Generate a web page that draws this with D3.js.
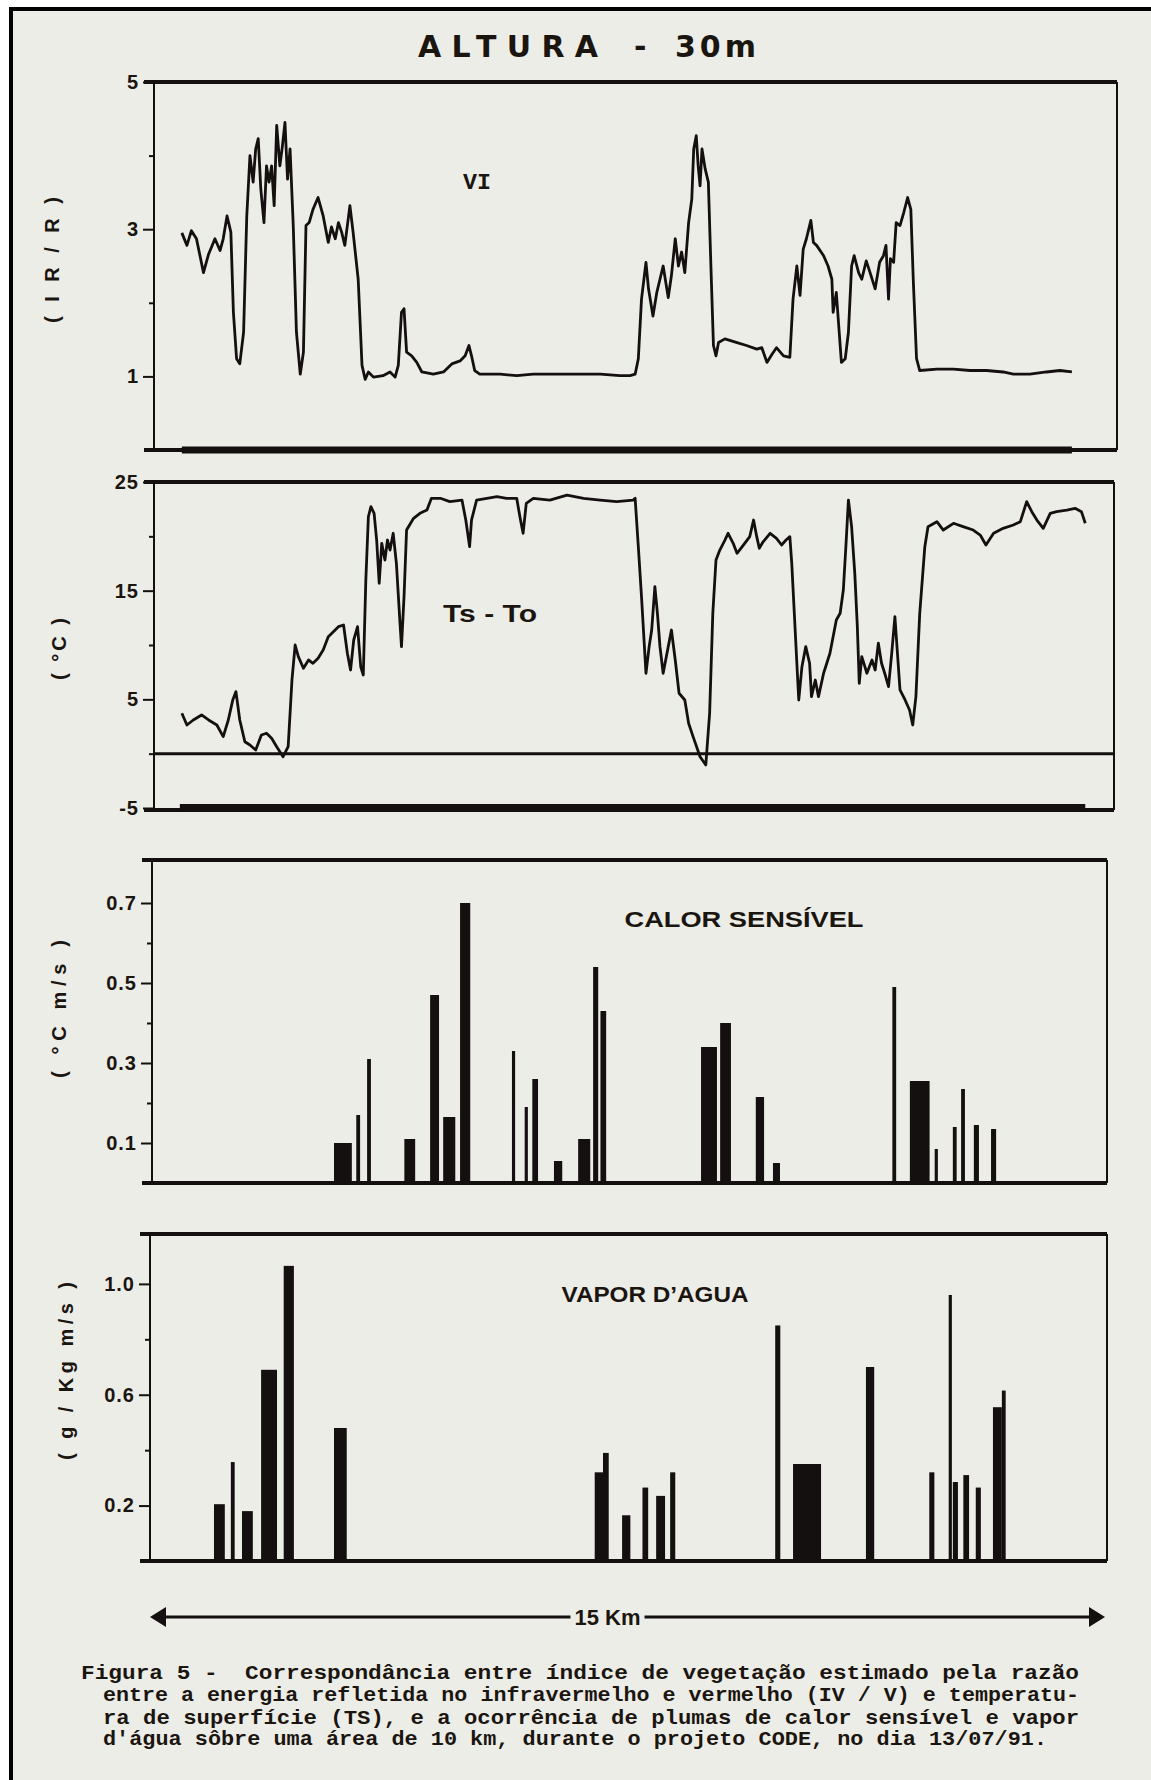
<!DOCTYPE html>
<html>
<head>
<meta charset="utf-8">
<script src="https://cdnjs.cloudflare.com/ajax/libs/d3/7.8.5/d3.min.js"></script>
<style>
body { margin: 0; background: #fff; }
svg text { fill: #1b1510; }
</style>
</head>
<body>
<svg id="fig" width="1151" height="1780"></svg>
<script>
// VI trace (IR/R) - distance along track in km / value
var viKm = [0.50,0.58,0.65,0.73,0.84,0.92,1.02,1.10,1.15,1.21,1.27,1.31,1.36,1.41,1.47,1.52,1.57,1.62,1.66,1.70,
    1.74,1.79,1.83,1.87,1.91,1.95,1.99,2.04,2.08,2.12,2.16,2.20,2.25,2.30,2.36,2.41,2.45,2.50,2.56,2.64,
    2.72,2.80,2.85,2.91,2.96,3.01,3.06,3.14,3.19,3.27,3.33,3.38,3.43,3.51,3.66,3.77,3.85,3.90,3.95,3.99,
    4.03,4.11,4.19,4.27,4.45,4.61,4.74,4.87,4.95,5.01,5.05,5.10,5.18,5.50,5.76,6.02,6.55,7.07,7.38,7.54,
    7.62,7.67,7.72,7.79,7.83,7.90,7.96,8.06,8.14,8.19,8.25,8.30,8.35,8.40,8.46,8.51,8.54,8.58,8.61,8.64,
    8.67,8.72,8.77,8.81,8.85,8.89,8.93,9.03,9.22,9.37,9.53,9.61,9.69,9.77,9.84,9.95,10.05,10.10,10.16,10.21,
    10.26,10.31,10.38,10.42,10.47,10.58,10.65,10.71,10.73,10.78,10.81,10.86,10.92,10.97,11.02,11.06,11.13,11.18,11.25,11.31,
    11.39,11.46,11.52,11.56,11.60,11.63,11.68,11.72,11.78,11.84,11.90,11.95,11.99,12.04,12.09,12.36,12.62,12.88,13.14,13.40,
    13.56,13.82,14.08,14.29,14.48];
var viVal = [2.95,2.78,2.98,2.87,2.41,2.66,2.87,2.71,2.87,3.18,2.96,1.87,1.24,1.17,1.60,3.18,4.00,3.64,4.09,4.23,
    3.55,3.09,3.86,3.64,3.86,3.32,4.41,3.86,4.13,4.45,3.68,4.09,3.05,1.60,1.03,1.33,3.05,3.09,3.27,3.43,
    3.18,2.82,3.03,2.87,3.09,2.96,2.78,3.32,2.96,2.32,1.15,0.96,1.06,0.99,1.01,1.06,0.99,1.15,1.87,1.92,
    1.33,1.28,1.19,1.06,1.03,1.06,1.17,1.21,1.28,1.42,1.28,1.08,1.03,1.03,1.01,1.03,1.03,1.03,1.01,1.01,
    1.03,1.24,2.05,2.55,2.19,1.82,2.14,2.50,2.07,2.37,2.87,2.50,2.69,2.41,3.09,3.41,4.09,4.27,3.86,3.59,
    4.09,3.82,3.64,2.50,1.42,1.28,1.46,1.51,1.46,1.42,1.37,1.39,1.19,1.30,1.39,1.28,1.26,2.05,2.50,2.10,
    2.73,2.87,3.12,2.82,2.78,2.64,2.50,2.32,1.87,2.14,1.78,1.19,1.24,1.60,2.50,2.64,2.41,2.32,2.57,2.41,
    2.19,2.55,2.64,2.78,2.05,2.60,2.55,3.09,3.05,3.23,3.43,3.27,2.28,1.24,1.08,1.10,1.10,1.08,1.08,1.06,
    1.03,1.03,1.06,1.08,1.06];

// Ts - To trace (deg C)
var tsKm = [0.50,0.58,0.68,0.81,0.92,1.05,1.15,1.23,1.30,1.35,1.41,1.49,1.57,1.66,1.75,1.83,1.91,1.99,2.09,2.17,
    2.23,2.28,2.33,2.41,2.49,2.56,2.64,2.72,2.80,2.88,2.96,3.04,3.10,3.15,3.20,3.26,3.31,3.35,3.39,3.43,
    3.47,3.52,3.56,3.60,3.64,3.69,3.73,3.77,3.82,3.87,3.93,3.95,3.99,4.03,4.14,4.24,4.35,4.42,4.56,4.71,
    4.90,4.96,5.02,5.05,5.13,5.29,5.45,5.60,5.76,5.81,5.86,5.91,6.02,6.28,6.55,6.81,7.07,7.33,7.59,7.62,
    7.67,7.72,7.79,7.84,7.88,7.93,7.97,8.01,8.06,8.14,8.19,8.25,8.31,8.40,8.46,8.53,8.64,8.73,8.79,8.84,
    8.89,8.95,9.03,9.08,9.16,9.22,9.32,9.42,9.48,9.53,9.57,9.63,9.74,9.84,9.92,9.99,10.05,10.08,10.12,10.16,
    10.19,10.24,10.30,10.36,10.39,10.45,10.50,10.58,10.68,10.78,10.84,10.89,10.93,10.97,11.02,11.07,11.11,11.14,11.18,11.26,
    11.34,11.39,11.44,11.49,11.54,11.60,11.65,11.70,11.74,11.78,11.86,11.93,11.98,12.03,12.09,12.17,12.22,12.36,12.46,12.62,
    12.77,12.93,13.04,13.13,13.25,13.40,13.56,13.67,13.77,13.85,13.93,14.03,14.14,14.24,14.40,14.53,14.63,14.69];
var tsVal = [3.72,2.64,3.10,3.56,3.10,2.64,1.57,3.10,4.94,5.71,3.10,1.10,0.80,0.34,1.72,1.88,1.42,0.64,-0.28,0.64,
    6.78,10.00,8.93,7.86,8.62,8.32,8.78,9.54,10.77,11.23,11.69,11.84,9.24,7.70,10.46,11.69,8.00,7.24,15.98,21.80,
    22.73,22.12,19.66,15.68,19.36,17.82,19.66,18.74,20.28,17.52,11.69,9.85,14.45,20.58,21.66,22.12,22.42,23.50,23.50,23.19,
    23.34,21.50,19.05,21.50,23.34,23.50,23.65,23.50,23.50,21.80,20.28,23.04,23.50,23.34,23.80,23.50,23.34,23.19,23.34,23.50,
    19.05,14.45,7.40,9.85,11.38,15.37,12.92,9.85,7.40,9.85,11.38,8.62,5.56,4.94,2.80,1.57,-0.28,-1.04,3.72,12.92,
    17.82,18.74,19.66,20.28,19.36,18.44,19.20,19.97,21.50,19.97,18.90,19.50,20.28,19.82,19.20,19.66,19.97,17.52,12.92,8.32,
    4.94,8.00,9.85,8.32,5.25,6.78,5.25,7.40,9.24,12.30,12.92,15.06,19.05,23.34,20.89,16.60,11.69,6.48,8.93,7.40,
    8.62,7.70,10.16,8.32,7.40,6.17,9.24,12.61,9.24,5.87,4.94,4.02,2.64,5.25,12.92,19.05,20.89,21.35,20.58,21.20,
    20.89,20.58,20.12,19.20,20.28,20.74,21.04,21.35,23.19,22.27,21.50,20.74,22.12,22.27,22.42,22.58,22.27,21.20];

// calor sensivel plumes (deg C m/s): centre km, width km, value
var calorKm = [3.03,3.27,3.44,4.08,4.47,4.70,4.95,5.71,5.91,6.05,6.41,6.82,7.00,7.12,8.78,9.04,9.58,9.84,11.69,12.09,12.35,12.64,12.77,12.98,13.25];
var calorWidth = [0.28,0.06,0.06,0.17,0.14,0.19,0.16,0.05,0.05,0.09,0.13,0.19,0.08,0.09,0.25,0.17,0.13,0.11,0.06,0.31,0.05,0.06,0.06,0.08,0.08];
var calorVal = [0.10,0.17,0.31,0.11,0.47,0.165,0.70,0.33,0.19,0.26,0.055,0.11,0.54,0.43,0.34,0.40,0.215,0.05,0.49,0.255,0.085,0.14,0.235,0.145,0.135];

// vapor d'agua plumes (g/Kg m/s)
var vaporKm = [1.09,1.30,1.53,1.87,2.18,2.99,7.05,7.16,7.48,7.78,8.02,8.21,9.86,10.32,11.31,12.28,12.57,12.65,12.82,13.01,13.31,13.41];
var vaporWidth = [0.17,0.06,0.17,0.25,0.16,0.20,0.13,0.09,0.13,0.09,0.14,0.08,0.08,0.44,0.13,0.08,0.05,0.08,0.09,0.08,0.14,0.06];
var vaporVal = [0.205,0.357,0.18,0.69,1.065,0.48,0.32,0.39,0.165,0.265,0.235,0.32,0.85,0.35,0.70,0.32,0.96,0.285,0.31,0.265,0.555,0.615];

// tick values
var viMajor = [1, 3, 5], viMinor = [2, 4];
var tsMajor = [-5, 5, 15, 25], tsMinor = [0, 10, 20];
var calorMajor = [0.1, 0.3, 0.5, 0.7], calorMinor = [0.2, 0.4, 0.6];
var vaporMajor = [0.2, 0.6, 1.0], vaporMinor = [0.4, 0.8];

var captionLines = [
    "Figura 5 -  Correspond\u00e2ncia entre \u00edndice de vegeta\u00e7\u00e3o estimado pela raz\u00e3o",
    "entre a energia refletida no infravermelho e vermelho (IV / V) e temperatu-",
    "ra de superf\u00edcie (TS), e a ocorr\u00eancia de plumas de calor sens\u00edvel e vapor",
    "d'\u00e1gua s\u00f4bre uma \u00e1rea de 10 km, durante o projeto CODE, no dia 13/07/91."
];

var ink = '#151010';
var narrow = '"Liberation Sans Narrow", "Liberation Sans", Arial, sans-serif';

var svg = d3.select('#fig');

// scanned page background + frame
svg.append('rect').attr('x', 11).attr('y', 9).attr('width', 1140).attr('height', 1771).attr('fill', '#edede8');
svg.append('path').attr('d', 'M11,1780 L11,9 L1151,9').attr('fill', 'none').attr('stroke', '#000').attr('stroke-width', 4);

var x = d3.scaleLinear().domain([0, 15]).range([150, 1105]);

var panels = {
    vi:    {left: 154, right: 1117, top: 82,  bottom: 450},
    ts:    {left: 154, right: 1114, top: 482, bottom: 810},
    calor: {left: 152, right: 1107, top: 860, bottom: 1183},
    vapor: {left: 150, right: 1107, top: 1234, bottom: 1561}
};

var yVi = d3.scaleLinear().domain([0, 5]).range([450, 82]);
var yTs = d3.scaleLinear().domain([-5, 25]).range([808, 482]);
var yCalor = d3.scaleLinear().domain([0, 0.81]).range([1183, 859]);
var yVapor = d3.scaleLinear().domain([0, 1.18]).range([1561, 1234]);

function drawFrame(p, y, major, minor, fmt) {
    var g = svg.append('g');
    g.append('line').attr('x1', p.left).attr('x2', p.left).attr('y1', p.top).attr('y2', p.bottom)
        .attr('stroke', ink).attr('stroke-width', 2);
    g.append('line').attr('x1', p.right).attr('x2', p.right).attr('y1', p.top).attr('y2', p.bottom)
        .attr('stroke', ink).attr('stroke-width', 2);
    g.append('line').attr('x1', p.left - 10).attr('x2', p.right).attr('y1', p.top).attr('y2', p.top)
        .attr('stroke', ink).attr('stroke-width', 4);
    g.append('line').attr('x1', p.left - 10).attr('x2', p.right).attr('y1', p.bottom).attr('y2', p.bottom)
        .attr('stroke', ink).attr('stroke-width', 4);

    var ax = g.append('g').attr('transform', 'translate(' + p.left + ',0)')
        .call(d3.axisLeft(y).tickValues(major).tickSize(11).tickPadding(4).tickFormat(fmt));
    ax.select('.domain').remove();
    ax.selectAll('line').attr('stroke', ink).attr('stroke-width', 2);
    ax.selectAll('text').attr('font-family', '"Liberation Sans", Arial, sans-serif')
        .attr('font-size', 20).attr('font-weight', 'bold').attr('letter-spacing', 1);

    var mi = g.append('g').attr('transform', 'translate(' + p.left + ',0)')
        .call(d3.axisLeft(y).tickValues(minor).tickSize(5).tickFormat(''));
    mi.select('.domain').remove();
    mi.selectAll('line').attr('stroke', ink).attr('stroke-width', 2);
}

function yTitle(txt, xPos, yCenter, len) {
    svg.append('text')
        .attr('transform', 'translate(' + xPos + ',' + yCenter + ') rotate(-90)')
        .attr('text-anchor', 'middle')
        .attr('font-family', '"Liberation Sans", Arial, sans-serif')
        .attr('font-weight', 'bold')
        .attr('font-size', 20)
        .attr('textLength', len)
        .attr('lengthAdjust', 'spacing')
        .text(txt);
}

function label(txt, cx, base, size, len, family) {
    svg.append('text')
        .attr('x', cx - len / 2).attr('y', base)
        .attr('font-family', family || narrow)
        .attr('font-weight', 'bold')
        .attr('font-size', size)
        .attr('textLength', len)
        .attr('lengthAdjust', 'spacingAndGlyphs')
        .text(txt);
}

// title
svg.append('text').attr('x', 418).attr('y', 57).attr('font-family', '"DejaVu Sans", sans-serif')
    .attr('font-weight', 'bold').attr('font-size', 30).attr('textLength', 180).attr('lengthAdjust', 'spacing').text('ALTURA');
svg.append('text').attr('x', 634).attr('y', 57).attr('font-family', '"DejaVu Sans", sans-serif')
    .attr('font-weight', 'bold').attr('font-size', 30).text('-');
svg.append('text').attr('x', 675).attr('y', 57).attr('font-family', '"DejaVu Sans", sans-serif')
    .attr('font-weight', 'bold').attr('font-size', 30).attr('textLength', 81).attr('lengthAdjust', 'spacing').text('30m');

var fmtInt = function(d) { return String(d); };
var fmt1 = d3.format('.1f');

// panel 1 - VI
drawFrame(panels.vi, yVi, viMajor, viMinor, fmtInt);
svg.append('line').attr('x1', x(viKm[0])).attr('x2', x(viKm[viKm.length - 1]))
    .attr('y1', yVi(0)).attr('y2', yVi(0)).attr('stroke', ink).attr('stroke-width', 7);
svg.append('path')
    .datum(d3.zip(viKm, viVal))
    .attr('fill', 'none').attr('stroke', ink).attr('stroke-width', 2.8).attr('stroke-linejoin', 'round')
    .attr('d', d3.line().x(d => x(d[0])).y(d => yVi(d[1])));
label('VI', 477, 189, 22, 28, '"Liberation Mono", monospace');
yTitle('( I R / R )', 59, 260, 126);

// panel 2 - Ts - To
drawFrame(panels.ts, yTs, tsMajor, tsMinor, fmtInt);
svg.append('line').attr('x1', panels.ts.left).attr('x2', panels.ts.right)
    .attr('y1', yTs(0)).attr('y2', yTs(0)).attr('stroke', ink).attr('stroke-width', 3);
svg.append('line').attr('x1', x(tsKm[0]) - 2).attr('x2', x(tsKm[tsKm.length - 1]))
    .attr('y1', yTs(-5)).attr('y2', yTs(-5)).attr('stroke', ink).attr('stroke-width', 8);
svg.append('path')
    .datum(d3.zip(tsKm, tsVal))
    .attr('fill', 'none').attr('stroke', ink).attr('stroke-width', 2.8).attr('stroke-linejoin', 'round')
    .attr('d', d3.line().x(d => x(d[0])).y(d => yTs(d[1])));
label('Ts - To', 490, 622, 23, 94);
yTitle('( \u00b0C )', 66, 649, 62);

// bars
function drawBars(km, w, val, y) {
    svg.append('g').selectAll('rect')
        .data(d3.range(km.length))
        .enter()
        .append('rect')
        .attr('x', i => x(km[i] - w[i] / 2))
        .attr('width', i => x(w[i]) - x(0))
        .attr('y', i => y(val[i]))
        .attr('height', i => y(0) - y(val[i]))
        .attr('fill', ink);
}

// panel 3 - calor sensivel
drawFrame(panels.calor, yCalor, calorMajor, calorMinor, fmt1);
drawBars(calorKm, calorWidth, calorVal, yCalor);
label('CALOR  SENS\u00cdVEL', 744, 927, 22, 239);
yTitle('( \u00b0C  m/s )', 66, 1009, 138);

// panel 4 - vapor d'agua
drawFrame(panels.vapor, yVapor, vaporMajor, vaporMinor, fmt1);
drawBars(vaporKm, vaporWidth, vaporVal, yVapor);
label('VAPOR   D\u2019AGUA', 655, 1302, 22, 187);
yTitle('( g / Kg  m/s )', 73, 1371, 178);

// 15 km scale arrow
var arrowY = 1617;
var kmText = svg.append('text').attr('x', x(7.5) - 20).attr('y', arrowY + 8)
    .attr('text-anchor', 'middle').attr('font-family', narrow).attr('font-weight', 'bold')
    .attr('font-size', 22).text('15 Km');
var bb = kmText.node().getBBox();
svg.append('line').attr('x1', x(0) + 10).attr('x2', bb.x - 4).attr('y1', arrowY).attr('y2', arrowY)
    .attr('stroke', ink).attr('stroke-width', 3);
svg.append('line').attr('x1', bb.x + bb.width + 4).attr('x2', x(15) - 10).attr('y1', arrowY).attr('y2', arrowY)
    .attr('stroke', ink).attr('stroke-width', 3);
svg.append('path').attr('d', 'M' + x(0) + ',' + arrowY + ' l16,-10 l0,20 z').attr('fill', ink);
svg.append('path').attr('d', 'M' + x(15) + ',' + arrowY + ' l-16,-10 l0,20 z').attr('fill', ink);

// caption
var capX = [81, 103, 103, 103];
var capY = [1679, 1701, 1724, 1745];
var capLen = [998, 976, 976, 944];
svg.append('g').selectAll('text')
    .data(captionLines)
    .enter()
    .append('text')
    .attr('x', (d, i) => capX[i])
    .attr('y', (d, i) => capY[i])
    .attr('font-family', '"Liberation Mono", "DejaVu Sans Mono", monospace')
    .attr('font-weight', 'bold')
    .attr('font-size', 21)
    .attr('textLength', (d, i) => capLen[i])
    .attr('lengthAdjust', 'spacingAndGlyphs')
    .attr('xml:space', 'preserve')
    .style('white-space', 'pre')
    .text(d => d);
</script>
</body>
</html>
